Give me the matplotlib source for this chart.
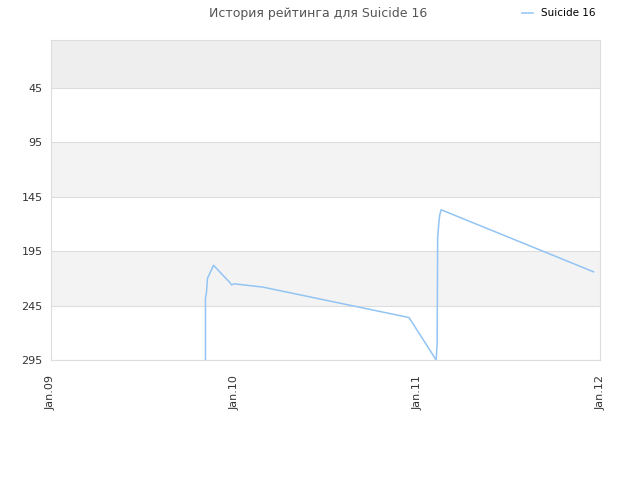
import matplotlib
matplotlib.use('Agg')
import matplotlib.pyplot as plt
import matplotlib.dates as mdates
import numpy as np
from datetime import datetime

dates = ['2009-11-05', '2009-11-05', '2009-11-07', '2009-11-09', '2009-11-21',
         '2009-12-24', '2009-12-27', '2010-01-01', '2010-02-27', '2010-12-16',
         '2011-02-08', '2011-02-10', '2011-02-11', '2011-02-13', '2011-02-15',
         '2011-02-18', '2011-12-19']
ranks = [295, 238, 233, 220, 208, 224, 226, 225, 228, 256,
         295, 280, 183, 171, 162, 157, 214]
yticks = [45, 95, 145, 195, 245, 295]
xtick_labels = ['Jan.09', 'Jan.10', 'Jan.11', 'Jan.12']
xtick_dates = ['2009-01-01', '2010-01-01', '2011-01-01', '2012-01-01']


def main():
    plt.rcParams['font.family'] = ['DejaVu Sans']
    fig = plt.figure(figsize=(6.4, 4.8), dpi=100)
    ax = fig.add_axes([0.0797, 0.25, 0.858, 0.6667])

    x = [datetime.strptime(d, '%Y-%m-%d') for d in dates]
    xt = [datetime.strptime(d, '%Y-%m-%d') for d in xtick_dates]

    # background bands
    edges = [1] + yticks
    colors = ['#eeeeee', 'white', '#f3f3f3', 'white', '#f3f3f3', 'white']
    for i in range(len(edges) - 1):
        ax.axhspan(edges[i], edges[i + 1], color=colors[i], zorder=0, lw=0)
    for t in yticks:
        ax.axhline(t, color='#dddddd', lw=0.8, zorder=1)

    ax.plot(x, ranks, color='#92c4f4', lw=1.1, label='Suicide 16', zorder=3)

    ax.set_xlim(xt[0], xt[-1])
    ax.set_ylim(295, 1)
    ax.set_yticks(yticks)
    ax.set_xticks(xt)
    ax.set_xticklabels(xtick_labels, rotation=90)
    ax.tick_params(axis='y', length=0, labelsize=8, colors='#333333', pad=6)
    ax.tick_params(axis='x', length=0, labelsize=8, colors='#333333', pad=11)
    for s in ax.spines.values():
        s.set_color('#dddddd')
        s.set_linewidth(0.8)

    fig.text(0.497, 0.972, 'История рейтинга для Suicide 16', ha='center', va='center',
             fontsize=9, color='#555555')
    fig.legend(loc='upper right', bbox_to_anchor=(0.945, 1.002), frameon=False,
               fontsize=7.5, handlelength=1.0, handletextpad=0.8)

    fig.savefig('out.png', dpi=100)


if __name__ == '__main__':
    main()
